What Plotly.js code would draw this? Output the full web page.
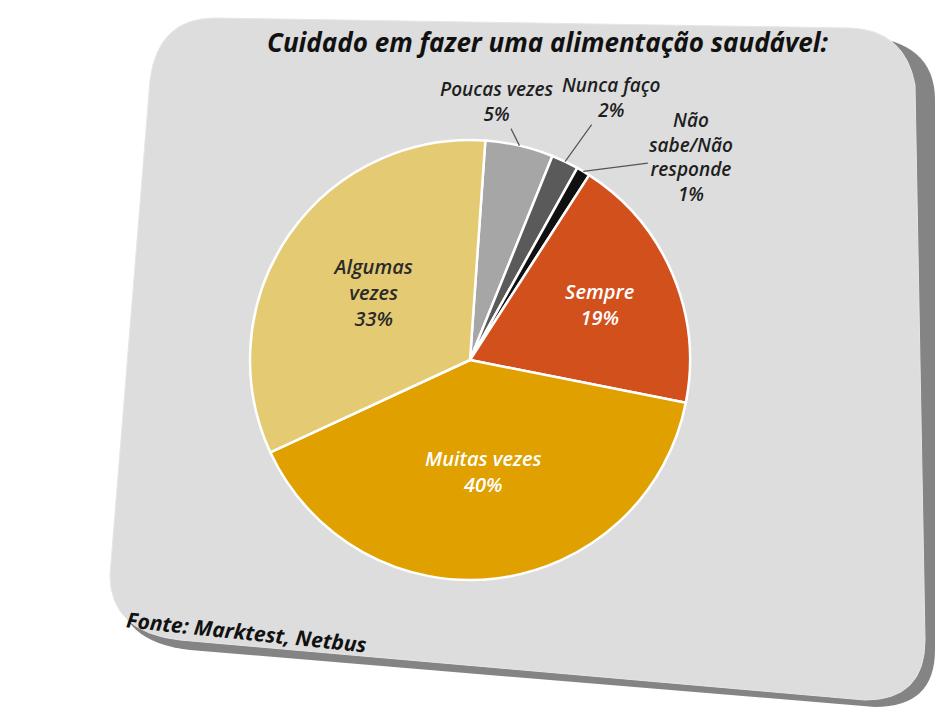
<!DOCTYPE html>
<html>
<head>
<meta charset="utf-8">
<script src="https://cdn.plot.ly/plotly-3.0.1.min.js"></script>
<style>html,body{margin:0;padding:0;background:#fff;}#chart{width:940px;height:707px;}</style>
</head>
<body>
<div id="chart"></div>
<script>
// Data
const categories = ["Poucas vezes", "Nunca faço", "Não sabe/Não responde", "Sempre", "Muitas vezes", "Algumas vezes"];
const displayLabels = ["Poucas vezes", "Nunca faço", "Não<br>sabe/Não<br>responde", "Sempre", "Muitas vezes", "Algumas<br>vezes"];
const values = [5, 2, 1, 19, 40, 33];
const colors = ["#A6A6A6", "#5A5A5A", "#101010", "#D2501C", "#E0A000", "#E4CA72"];
const textColors = ["#222222", "#222222", "#222222", "#FFFFFF", "#FFFFFF", "#2a2a2a"];
const outsideLabelled = [true, true, true, false, false, false];
const titleText = "Cuidado em fazer uma alimentação saudável:";
const sourceText = "Fonte: Marktest, Netbus";

const FONT = "Open Sans, Liberation Sans, sans-serif";
const ROTATION = 4;
const CX = 470, CY = 360, R = 220; // pie centre and radius in pixels

const templates = displayLabels.map((t, i) => outsideLabelled[i] ? "" : "%{text}<br>%{percent}");

const pie = {
  type: "pie",
  labels: categories,
  values: values,
  text: displayLabels,
  texttemplate: templates,
  textposition: "inside",
  sort: false,
  direction: "clockwise",
  rotation: ROTATION,
  marker: {colors: colors, line: {color: "#FFFFFF", width: 2.5}},
  textfont: {family: FONT, size: 20, color: textColors, style: "italic", weight: 600},
  insidetextorientation: "horizontal",
  automargin: false,
  showlegend: false,
  hoverinfo: "label+percent",
  domain: {x: [(CX - R) / 940, (CX + R) / 940], y: [(707 - CY - R) / 707, (707 - CY + R) / 707]}
};

// leader-line labels for the small slices: tip at slice mid-angle on the rim
const total = values.reduce((a, b) => a + b, 0);
const labelOffsets = [[-22, -44], [46, -64], [108, -14]];
const outsideAnnotations = [];
let cum = 0;
values.forEach((v, i) => {
  const mid = ROTATION + (cum + v / 2) / total * 360;
  cum += v;
  if (!outsideLabelled[i]) return;
  const a = mid * Math.PI / 180;
  const k = outsideAnnotations.length;
  outsideAnnotations.push({
    x: CX + R * Math.sin(a), y: CY - R * Math.cos(a), xref: "x", yref: "y",
    text: displayLabels[i] + "<br>" + Math.round(v / total * 100) + "%",
    showarrow: true, arrowhead: 0, arrowwidth: 1.2, arrowcolor: "#555",
    ax: labelOffsets[k][0], ay: labelOffsets[k][1],
    font: {family: FONT, size: 19, color: "#1e1e1e", style: "italic", weight: 600}
  });
});

// Card outline (pixel coordinates on hidden axes)
const card = "M 215 18 L 850 28 Q 905 30 915 85 L 925 640 Q 925 700 865 700 L 180 640 Q 110 632 110 575 L 150 80 Q 158 18 215 18 Z";
const shadow = "M 225 26 L 860 36 Q 935 40 935 100 L 935 650 Q 935 707 875 707 L 190 650 Q 118 642 118 585 L 160 90 Q 168 26 225 26 Z";

const layout = {
  width: 940, height: 707,
  margin: {l: 0, r: 0, t: 0, b: 0},
  paper_bgcolor: "#FFFFFF",
  plot_bgcolor: "rgba(0,0,0,0)",
  xaxis: {range: [0, 940], visible: false, fixedrange: true},
  yaxis: {range: [707, 0], visible: false, fixedrange: true},
  showlegend: false,
  shapes: [
    {type: "path", xref: "x", yref: "y", path: shadow, fillcolor: "#6e6e6e", line: {width: 0}, layer: "below", opacity: 0.85},
    {type: "path", xref: "x", yref: "y", path: card, fillcolor: "#DDDDDD", line: {color: "#e6e6e6", width: 1}, layer: "below"}
  ],
  annotations: [
    {text: "<b>" + titleText + "</b>", x: 548, y: 42, xref: "x", yref: "y", showarrow: false,
     font: {family: FONT, size: 26, color: "#111", style: "italic"}, xanchor: "center", yanchor: "middle"},
    {text: "<b>" + sourceText + "</b>", x: 123, y: 632, xref: "x", yref: "y", showarrow: false, textangle: 6,
     font: {family: FONT, size: 21, color: "#111", style: "italic"}, xanchor: "left", yanchor: "middle"}
  ].concat(outsideAnnotations)
};

const dummy = {type: "scatter", x: [0], y: [0], mode: "markers", marker: {opacity: 0}, hoverinfo: "skip", showlegend: false};

Plotly.newPlot("chart", [dummy, pie], layout, {displayModeBar: false, staticPlot: true});
</script>
</body>
</html>
